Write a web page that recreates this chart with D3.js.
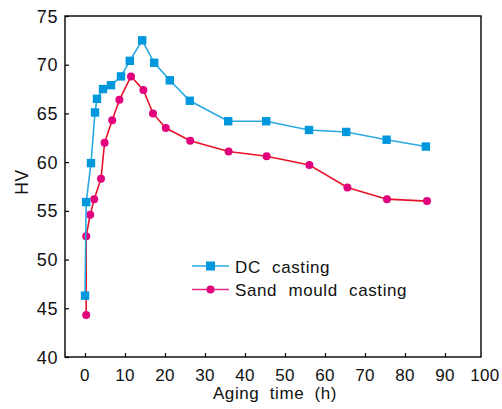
<!DOCTYPE html>
<html>
<head>
<meta charset="utf-8">
<script src="https://cdn.jsdelivr.net/npm/d3@7"></script>
<style>
  html, body { margin: 0; padding: 0; background: #fff; }
  svg { display: block; font-family: "Liberation Sans", Arial, sans-serif; }
</style>
</head>
<body>
<svg id="chart" width="502" height="409"></svg>
<script>
// Hardness (HV) versus aging time for two casting routes
const dcTime   = [0, 0.3, 1.5, 2.5, 3, 4.5, 6.5, 9, 11.2, 14.3, 17.3, 21.2, 26.2, 35.8, 45.3, 56, 65.3, 75.4, 85.2];
const dcHV     = [46.3, 55.9, 59.9, 65.1, 66.5, 67.5, 67.9, 68.8, 70.4, 72.5, 70.2, 68.4, 66.3, 64.2, 64.2, 63.3, 63.1, 62.3, 61.6];
const sandTime = [0.3, 0.3, 1.3, 2.3, 4, 4.9, 6.8, 8.6, 11.5, 14.6, 17, 20.2, 26.3, 35.9, 45.4, 56.1, 65.6, 75.5, 85.5];
const sandHV   = [44.3, 52.4, 54.6, 56.2, 58.3, 62.0, 64.3, 66.4, 68.8, 67.4, 65.0, 63.5, 62.2, 61.1, 60.6, 59.7, 57.4, 56.2, 56.0];
const xTicks = [0, 10, 20, 30, 40, 50, 60, 70, 80, 90, 100];
const yTicks = [40, 45, 50, 55, 60, 65, 70, 75];
const seriesNames = ["DC casting", "Sand mould casting"];

const svg = d3.select("#chart");
const plotLeft = 65, plotRight = 481, plotTop = 16, plotBottom = 357;

const x = d3.scaleLinear().domain([-5, 99]).range([plotLeft, plotRight]);
const y = d3.scaleLinear().domain([40, 75]).range([plotBottom, plotTop]);

const blueLine = "#29a9e1", blueMark = "#0098dd";
const redLine = "#e8132a", redMark = "#e2007c", pinkLine = "#e4288a";

// frame
svg.append("rect")
  .attr("x", plotLeft).attr("y", plotTop)
  .attr("width", plotRight - plotLeft).attr("height", plotBottom - plotTop)
  .attr("fill", "none").attr("stroke", "#000").attr("stroke-width", 1.4);

// x axis: inward ticks, labels below
const xAxis = d3.axisBottom(x)
  .tickValues(xTicks.filter(v => x(v) < plotRight))
  .tickSizeInner(-4).tickSizeOuter(0).tickFormat("");
const gx = svg.append("g").attr("transform", `translate(0,${plotBottom})`).call(xAxis);
gx.select(".domain").remove();
gx.selectAll(".tick line").attr("stroke", "#000").attr("stroke-width", 1.2);

svg.append("g").selectAll("text").data(xTicks).join("text")
  .attr("x", d => x(d)).attr("y", 381)
  .attr("text-anchor", "middle")
  .attr("font-size", 17).attr("letter-spacing", 0.3).attr("fill", "#111")
  .text(d => d);

// y axis: inward ticks, labels left
const yAxis = d3.axisLeft(y)
  .tickValues(yTicks)
  .tickSizeInner(-4).tickSizeOuter(0).tickFormat("");
const gy = svg.append("g").attr("transform", `translate(${plotLeft},0)`).call(yAxis);
gy.select(".domain").remove();
gy.selectAll(".tick line").attr("stroke", "#000").attr("stroke-width", 1.2);

svg.append("g").selectAll("text").data(yTicks).join("text")
  .attr("x", 58).attr("y", d => y(d) + 6.5)
  .attr("text-anchor", "end")
  .attr("font-size", 18).attr("letter-spacing", 0.6).attr("fill", "#111")
  .text(d => d);

// axis titles
svg.append("text")
  .attr("x", 275).attr("y", 399)
  .attr("text-anchor", "middle")
  .attr("font-size", 17).attr("letter-spacing", 0.6).attr("word-spacing", 5).attr("fill", "#111")
  .text("Aging time (h)");

svg.append("text")
  .attr("transform", "translate(28,182) rotate(-90)")
  .attr("text-anchor", "middle")
  .attr("font-size", 17.5).attr("letter-spacing", 0.5).attr("fill", "#111")
  .text("HV");

const line = d3.line().x(d => x(d[0])).y(d => y(d[1]));
const dcPts = dcTime.map((t, i) => [t, dcHV[i]]);
const sandPts = sandTime.map((t, i) => [t, sandHV[i]]);

// sand mould casting series
svg.append("path").datum(sandPts)
  .attr("d", line).attr("fill", "none")
  .attr("stroke", redLine).attr("stroke-width", 1.6);
svg.append("g").selectAll("circle").data(sandPts).join("circle")
  .attr("cx", d => x(d[0])).attr("cy", d => y(d[1])).attr("r", 4)
  .attr("fill", redMark);

// DC casting series
svg.append("path").datum(dcPts)
  .attr("d", line).attr("fill", "none")
  .attr("stroke", blueLine).attr("stroke-width", 1.6);
const sq = 8.4;
svg.append("g").selectAll("rect").data(dcPts).join("rect")
  .attr("x", d => x(d[0]) - sq / 2).attr("y", d => y(d[1]) - sq / 2)
  .attr("width", sq).attr("height", sq)
  .attr("fill", blueMark);

// legend
const lg = svg.append("g");
const legendRows = [
  { name: seriesNames[0], y: 266, stroke: blueLine, fill: blueMark, shape: "square" },
  { name: seriesNames[1], y: 289.5, stroke: pinkLine, fill: redMark, shape: "circle" }
];
legendRows.forEach(r => {
  lg.append("line").attr("x1", 192).attr("x2", 229).attr("y1", r.y).attr("y2", r.y)
    .attr("stroke", r.stroke).attr("stroke-width", 1.6);
  if (r.shape === "square") {
    lg.append("rect").attr("x", 210.5 - 4.5).attr("y", r.y - 4.5)
      .attr("width", 9).attr("height", 9).attr("fill", r.fill);
  } else {
    lg.append("circle").attr("cx", 210.5).attr("cy", r.y).attr("r", 4).attr("fill", r.fill);
  }
  lg.append("text").attr("x", 235).attr("y", r.y + 6.5)
    .attr("font-size", 17).attr("letter-spacing", 0.6).attr("word-spacing", 6).attr("fill", "#111")
    .text(r.name);
});
</script>
</body>
</html>
